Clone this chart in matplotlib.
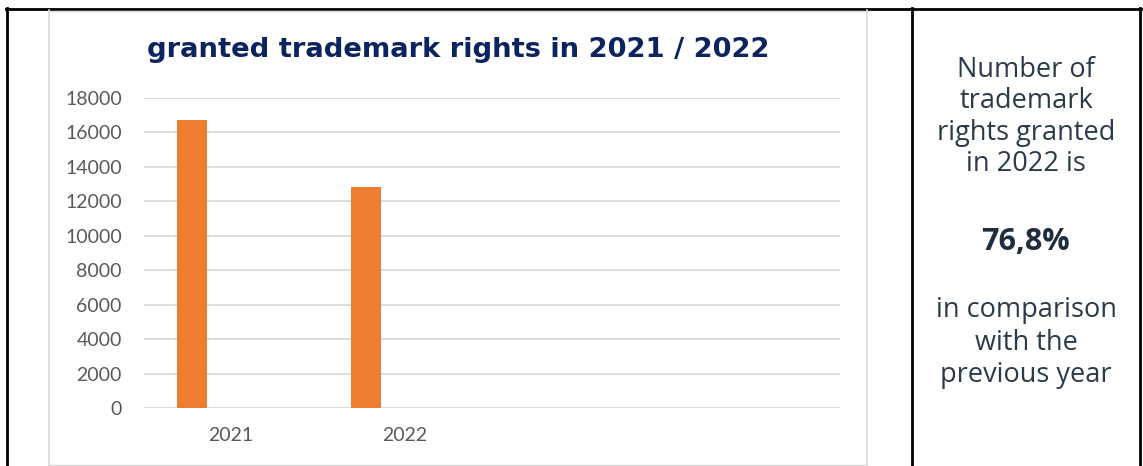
import matplotlib.pyplot as plt
from matplotlib.lines import Line2D
import numpy as np

# data
years = ['2021', '2022', '', '']
granted = [16720, 12840, 0, 0]
yticks = [0, 2000, 4000, 6000, 8000, 10000, 12000, 14000, 16000, 18000]
title = 'granted trademark rights in 2021 / 2022'
side_text = ['Number of', 'trademark', 'rights granted', 'in 2022 is']
side_value = '76,8%'
side_text2 = ['in comparison', 'with the', 'previous year']

W, H = 1143, 466
fig = plt.figure(figsize=(W / 100, H / 100), dpi=100)
fig.patch.set_facecolor('white')


def px(x, y):
    # pixel coords (top-left origin) -> figure fraction
    return x / W, 1 - y / H


def hline(x0, x1, y, **kw):
    (a, b), (c, d) = px(x0, y), px(x1, y)
    fig.add_artist(Line2D([a, c], [b, d], transform=fig.transFigure, **kw))


def vline(x, y0, y1, **kw):
    (a, b), (c, d) = px(x, y0), px(x, y1)
    fig.add_artist(Line2D([a, c], [b, d], transform=fig.transFigure, **kw))


# table borders
hline(6, 1141, 8.5, color='black', lw=2)
vline(7, 8, 466, color='black', lw=2)
vline(912, 8, 466, color='black', lw=2)
vline(1140, 8, 466, color='black', lw=2)

# chart frame
hline(49, 867, 10.5, color='#d9d9d9', lw=1)
vline(49, 10, 466, color='#d9d9d9', lw=1.2)
vline(867, 10, 466, color='#d9d9d9', lw=1.2)
hline(49, 867, 465, color='#d9d9d9', lw=1)

ax = fig.add_axes([144 / W, 58 / H, 696 / W, 310 / H])
x = np.arange(len(years))
ax.bar(x - 0.224, granted, width=0.172, color='#ed7d31', zorder=3)
ax.set_xlim(-0.5, 3.5)
ax.set_ylim(0, 18000)
ax.set_yticks(yticks)
ax.set_yticklabels([str(v) for v in yticks], fontsize=14, color='#595959',
                   family='Lato')
ax.set_xticks(x)
ax.set_xticklabels(years, fontsize=14, color='#595959', family='Lato')
ax.tick_params(axis='both', length=0)
ax.tick_params(axis='y', pad=16)
ax.tick_params(axis='x', pad=14)
ax.grid(axis='y', color='#d9d9d9', lw=1.3, zorder=0)
for s in ax.spines.values():
    s.set_visible(False)
ax.set_facecolor('none')

fig.text(*px(458.5, 57), title, ha='center', va='baseline', fontsize=19.7,
         fontweight='bold', color='#0b2460', family='DejaVu Sans')

cx = 1026
for line, yb in zip(side_text, [77, 108.5, 140, 171]):
    fig.text(*px(cx, yb), line, ha='center', va='baseline',
             fontsize=19.5, color='#2b3a4a', family='Open Sans')
fig.text(*px(cx, 250), side_value, ha='center', va='baseline', fontsize=22,
         fontweight='bold', color='#1f2d3d', family='Open Sans')
for line, yb in zip(side_text2, [317, 349.5, 382]):
    fig.text(*px(cx, yb), line, ha='center', va='baseline',
             fontsize=19.5, color='#2b3a4a', family='Open Sans')

fig.savefig('out.png', dpi=100)
